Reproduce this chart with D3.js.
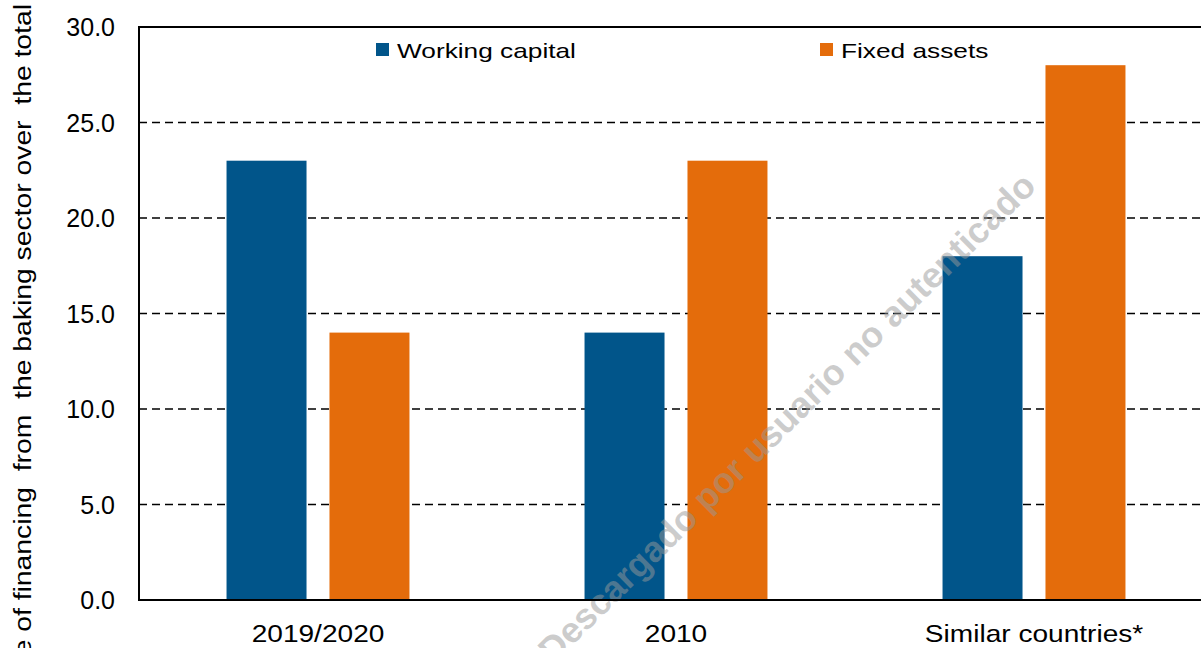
<!DOCTYPE html>
<meta charset="utf-8">
<style>
body { margin: 0; background: #fff; }
svg { display: block; }
text { font-family: "Liberation Sans", Arial, sans-serif; fill: #000; }
.grid line { stroke: #000; stroke-width: 1.6px; stroke-dasharray: 8,5; }
.axisline { stroke: #000; stroke-width: 2px; }
.tick-label { font-size: 25px; }
.cat-label { font-size: 24px; }
.legend text { font-size: 21px; }
.ytitle { font-size: 24px; white-space: pre; }
.watermark { font-size: 36px; font-weight: bold; fill: #999; fill-opacity: 0.5; }
</style>
<svg width="1201" height="648"></svg>
<script src="https://d3js.org/d3.v7.min.js"></script>
<script>

var categories = ["2019/2020", "2010", "Similar countries*"];
var series = ["Working capital", "Fixed assets"];
var workingCapital = [23, 14, 18];
var fixedAssets = [14, 23, 28];
var yTicks = [0, 5, 10, 15, 20, 25, 30];
var colors = ["#01558a", "#e46c0b"];

var svg = d3.select("svg");

var plotLeft = 139, plotTop = 27, plotBottom = 600, plotRight = 1213;

var x0 = d3.scaleBand()
    .domain(categories)
    .range([plotLeft, plotRight])
    .paddingInner(0.489)
    .paddingOuter(0.2445);

var x1 = d3.scaleBand()
    .domain(series)
    .range([0, x0.bandwidth()])
    .paddingInner(0.223);

var y = d3.scaleLinear()
    .domain([0, 30])
    .range([plotBottom, plotTop]);

// bars
var rows = categories.map(function(c, i) {
  return { cat: c, values: [workingCapital[i], fixedAssets[i]] };
});

svg.append("g")
  .selectAll("g")
  .data(rows)
  .enter().append("g")
    .attr("transform", function(d) { return "translate(" + x0(d.cat) + ",0)"; })
  .selectAll("rect")
  .data(function(d) { return d.values.map(function(v, j) { return { s: series[j], v: v, j: j }; }); })
  .enter().append("rect")
    .attr("x", function(d) { return x1(d.s); })
    .attr("width", x1.bandwidth())
    .attr("y", function(d) { return y(d.v); })
    .attr("height", function(d) { return y(0) - y(d.v); })
    .attr("fill", function(d) { return colors[d.j]; });

// watermark
svg.append("text")
    .attr("class", "watermark")
    .attr("text-anchor", "end")
    .attr("transform", "translate(1038,188) rotate(-44.5)")
    .text("Descargado por usuario no autenticado");

// dashed grid (only between bars, the bars hide it)
svg.insert("g", ":first-child")
    .attr("class", "grid")
  .selectAll("line")
  .data(yTicks.filter(function(d) { return d > 0 && d < 30; }))
  .enter().append("line")
    .attr("x1", plotLeft)
    .attr("x2", 1201)
    .attr("y1", function(d) { return y(d); })
    .attr("y2", function(d) { return y(d); });

// frame lines
svg.append("line").attr("class", "axisline")
    .attr("x1", plotLeft).attr("x2", 1201).attr("y1", y(30)).attr("y2", y(30));
svg.append("line").attr("class", "axisline")
    .attr("x1", plotLeft).attr("x2", 1201).attr("y1", y(0)).attr("y2", y(0));
svg.append("line").attr("class", "axisline")
    .attr("x1", plotLeft).attr("x2", plotLeft).attr("y1", y(30) - 1).attr("y2", y(0) + 1);

// y tick labels
svg.append("g")
  .selectAll("text")
  .data(yTicks)
  .enter().append("text")
    .attr("class", "tick-label")
    .attr("x", 115)
    .attr("y", function(d) { return y(d) + 9; })
    .attr("text-anchor", "end")
    .text(function(d) { return d3.format(".1f")(d); });

// category labels
svg.append("g")
  .selectAll("text")
  .data(categories)
  .enter().append("text")
    .attr("class", "cat-label")
    .attr("text-anchor", "middle")
    .attr("transform", function(d) {
      return "translate(" + (x0(d) + x0.bandwidth() / 2) + ",642) scale(1.17,1)";
    })
    .text(function(d) { return d; });

// legend
var legendX = [376, 820];
var legend = svg.append("g").attr("class", "legend")
  .selectAll("g")
  .data(series)
  .enter().append("g")
    .attr("transform", function(d, i) { return "translate(" + legendX[i] + ",43)"; });
legend.append("rect")
    .attr("width", 13).attr("height", 13)
    .attr("fill", function(d, i) { return colors[i]; });
legend.append("text")
    .attr("transform", "translate(21,15) scale(1.25,1)")
    .text(function(d) { return d; });

// y axis title (cut at the edge)
svg.append("text")
    .attr("class", "ytitle")
    .attr("text-anchor", "end")
    .attr("transform", "translate(31,4) rotate(-90) scale(1.18,1)")
    .text("Percentage of financing  from  the baking sector over  the total");

</script>
